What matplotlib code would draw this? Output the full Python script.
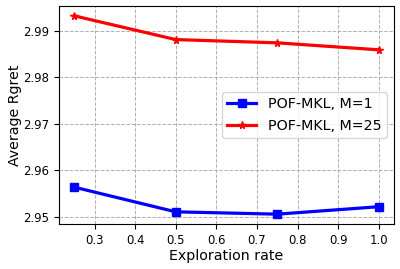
import matplotlib
matplotlib.use('Agg')
import matplotlib.pyplot as plt

# Exploration rate vs average regret
rates = [0.25, 0.5, 0.75, 1.0]
regret_m1 = [2.9564, 2.9511, 2.9506, 2.9522]
regret_m25 = [2.9932, 2.9881, 2.9874, 2.9859]

fig = plt.figure(figsize=(4, 2.69), dpi=100)
ax = fig.add_axes([0.1475, 0.167, 0.8375, 0.811])

ax.plot(rates, regret_m1, 'b-', marker='s', markersize=5.5, linewidth=2.3, label='POF-MKL, M=1')
ax.plot(rates, regret_m25, 'r-', marker='*', markersize=5.5, linewidth=2.3, label='POF-MKL, M=25')

ax.set_xlabel('Exploration rate', fontsize=10.2, labelpad=1.5)
ax.set_ylabel('Average Rgret', fontsize=10.2, labelpad=1)
ax.tick_params(labelsize=8.4)
ax.grid(True, linestyle='--', color='#b0b0b0', linewidth=0.7)
ax.legend(loc='center right', fontsize=10.3, handlelength=2)

fig.savefig('out.png', dpi=100)
